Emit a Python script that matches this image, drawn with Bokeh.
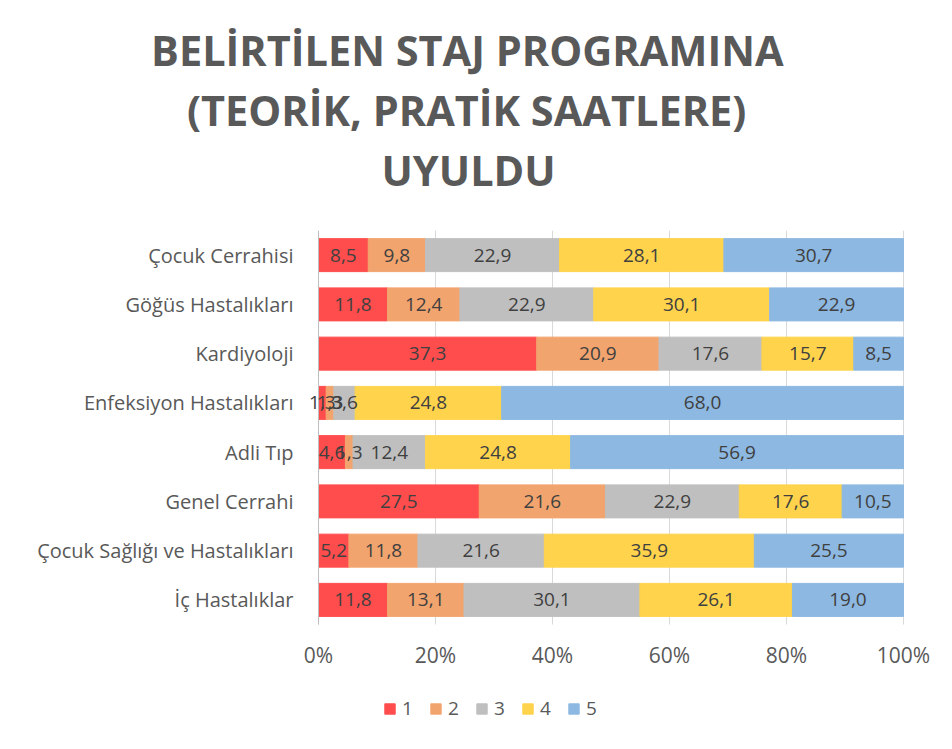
from bokeh.plotting import figure
from bokeh.models import (ColumnDataSource, FixedTicker, NumeralTickFormatter, LabelSet,
                          Title, Legend, LegendItem, Range1d)
from bokeh.embed import file_html
from bokeh.resources import INLINE
from bokeh.core.properties import value

# ---------------- data ----------------
categories = ["Çocuk Cerrahisi", "Göğüs Hastalıkları", "Kardiyoloji",
              "Enfeksiyon Hastalıkları", "Adli Tıp", "Genel Cerrahi",
              "Çocuk Sağlığı ve Hastalıkları", "İç Hastalıklar"]
s1 = [8.5, 11.8, 37.3, 1.3, 4.6, 27.5, 5.2, 11.8]
s2 = [9.8, 12.4, 20.9, 1.3, 1.3, 21.6, 11.8, 13.1]
s3 = [22.9, 22.9, 17.6, 3.6, 12.4, 22.9, 21.6, 30.1]
s4 = [28.1, 30.1, 15.7, 24.8, 24.8, 17.6, 35.9, 26.1]
s5 = [30.7, 22.9, 8.5, 68.0, 56.9, 10.5, 25.5, 19.0]
series_names = ["1", "2", "3", "4", "5"]
tick_values = [0, 0.2, 0.4, 0.6, 0.8, 1.0]
title_lines = ["BELİRTİLEN STAJ PROGRAMINA", "(TEORİK, PRATİK SAATLERE)", "UYULDU"]

colors = ["#FF4D4D", "#F2A46E", "#BFBFBF", "#FFD34C", "#8DB8E1"]
FONT = "Open Sans"
GREY_TXT = "#595959"

series = [s1, s2, s3, s4, s5]
keys = ["f1", "f2", "f3", "f4", "f5"]
n = len(categories)
ypos = [n - 1 - i for i in range(n)]          # first category on top

# normalise each category to 100 % (Excel 100% stacked bar)
data = {"y": ypos}
for k in keys:
    data[k] = []
for i in range(n):
    tot = sum(s[i] for s in series)
    for k, s in zip(keys, series):
        data[k].append(s[i] / tot)
source = ColumnDataSource(data)

# labels at segment centres
lx, ly, lt = [], [], []
for i in range(n):
    left = 0.0
    for k, s in zip(keys, series):
        w = data[k][i]
        lx.append(left + w / 2)
        ly.append(ypos[i])
        lt.append(f"{s[i]:.1f}".replace(".", ","))
        left += w
lab_src = ColumnDataSource(dict(x=lx, y=ly, t=lt))

# ---------------- chart ----------------
# The frame covers the whole width and runs from the top of the bars down to
# the legend row; both axes are pinned at the edges of the bar area.
p = figure(width=936, height=733, output_backend="svg", toolbar_location=None,
           y_range=Range1d(-2.713, n - 0.5), x_range=Range1d(-318 / 585, 1 + 33 / 585),
           min_border_left=0, min_border_right=0, min_border_top=230, min_border_bottom=0)
p.outline_line_color = None

rs = p.hbar_stack(keys, y="y", height=0.67, color=colors, source=source)

p.add_layout(LabelSet(x="x", y="y", text="t", source=lab_src, text_align="center",
                      text_baseline="middle", text_font=value(FONT),
                      text_font_size="19px", text_color="#404040"))

# x axis
p.xaxis.fixed_location = -0.5
p.xaxis.ticker = FixedTicker(ticks=tick_values)
p.xaxis.formatter = NumeralTickFormatter(format="0%")
p.xaxis.axis_line_color = None
p.xaxis.major_tick_line_color = None
p.xaxis.minor_tick_line_color = None
p.xaxis.major_tick_out = 0
p.xaxis.major_tick_in = 0
p.xaxis.major_label_standoff = 16
p.xaxis.major_label_text_font = FONT
p.xaxis.major_label_text_font_size = "21px"
p.xaxis.major_label_text_color = GREY_TXT

# y axis (categories)
p.yaxis.fixed_location = 0
p.yaxis.ticker = FixedTicker(ticks=ypos)
p.yaxis.major_label_overrides = {ypos[i]: categories[i] for i in range(n)}
p.yaxis.bounds = (-0.5, n - 0.5)
p.yaxis.axis_line_color = "#BFBFBF"
p.yaxis.axis_line_width = 1
p.yaxis.major_tick_line_color = None
p.yaxis.minor_tick_line_color = None
p.yaxis.major_tick_out = 0
p.yaxis.major_tick_in = 0
p.yaxis.major_label_standoff = 25
p.yaxis.major_label_text_font = FONT
p.yaxis.major_label_text_font_size = "20px"
p.yaxis.major_label_text_color = GREY_TXT

p.xgrid.ticker = FixedTicker(ticks=tick_values)
p.xgrid.grid_line_color = "#D9D9D9"
if "cross_bounds" in p.xgrid[0].properties():
    p.xgrid.cross_bounds = (-0.5, n - 0.5)
p.ygrid.grid_line_color = None

# legend
legend = Legend(items=[LegendItem(label=nm, renderers=[r]) for nm, r in zip(series_names, rs)],
                orientation="horizontal", location=(383, 12), padding=0, margin=0,
                border_line_color=None, background_fill_alpha=0,
                glyph_width=13, glyph_height=13, label_standoff=6, label_width=12,
                spacing=15, label_text_font=FONT, label_text_font_size="19px",
                label_text_color=GREY_TXT)
p.add_layout(legend, "center")

# title (side panel titles; the one added first sits nearest the bars)
p.add_layout(Title(text=" ", text_font_size="10px", standoff=18), "above")
title_offsets = [150.5, 186.5, 381]
for line, off in reversed(list(zip(title_lines, title_offsets))):
    p.add_layout(Title(text=line, align="left", offset=off, vertical_align="middle",
                       standoff=2, text_font=FONT, text_font_style="bold",
                       text_font_size="41.5px", text_color=GREY_TXT), "above")

open("out.html", "w").write(file_html(p, INLINE))
